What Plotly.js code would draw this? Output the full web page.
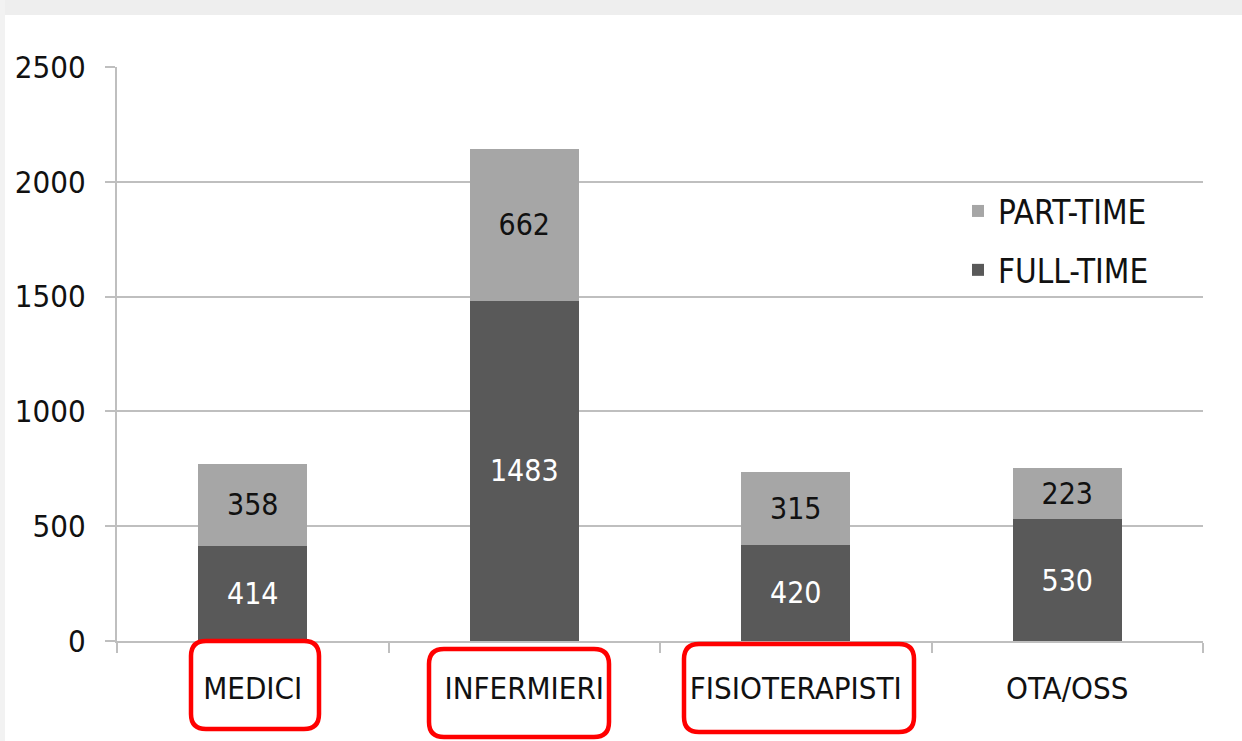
<!DOCTYPE html>
<html>
<head>
<meta charset="utf-8">
<script src="https://cdn.plot.ly/plotly-3.0.1.min.js"></script>
<style>html,body{margin:0;padding:0;background:#fff;}#chart{width:1242px;height:741px;}</style>
</head>
<body>
<div id="chart"></div>
<script>
const categories = ["MEDICI", "INFERMIERI", "FISIOTERAPISTI", "OTA/OSS"];
const fullTime = [414, 1483, 420, 530];
const partTime = [358, 662, 315, 223];
const seriesNames = ["FULL-TIME", "PART-TIME"];
const yTicks = [0, 500, 1000, 1500, 2000, 2500];

const W = 1242, H = 741;
const L = 117, R = 1203, T = 67, B = 641;
const px2x = p => (p - L) / (R - L);
const py2y = p => (B - p) / (B - T);

function roundRect(x0, y0, x1, y1, r) {
  const X = px2x, Y = py2y;
  return `M ${X(x0 + r)},${Y(y0)} L ${X(x1 - r)},${Y(y0)} Q ${X(x1)},${Y(y0)} ${X(x1)},${Y(y0 + r)} ` +
    `L ${X(x1)},${Y(y1 - r)} Q ${X(x1)},${Y(y1)} ${X(x1 - r)},${Y(y1)} ` +
    `L ${X(x0 + r)},${Y(y1)} Q ${X(x0)},${Y(y1)} ${X(x0)},${Y(y1 - r)} ` +
    `L ${X(x0)},${Y(y0 + r)} Q ${X(x0)},${Y(y0)} ${X(x0 + r)},${Y(y0)} Z`;
}

const FONT = '"DejaVu Sans Condensed", "Liberation Sans Narrow", Lato, sans-serif';

const traces = [
  {
    type: 'bar', name: seriesNames[0], x: categories, y: fullTime,
    text: fullTime.map(String), textposition: 'inside', insidetextanchor: 'middle',
    textfont: {color: '#ffffff', size: 30, family: FONT},
    marker: {color: '#595959'}, legendgroup: 'a', legendrank: 2, width: 0.4, hoverinfo: 'none'
  },
  {
    type: 'bar', name: seriesNames[1], x: categories, y: partTime,
    text: partTime.map(String), textposition: 'inside', insidetextanchor: 'middle',
    textfont: {color: '#111111', size: 30, family: FONT},
    marker: {color: '#a6a6a6'}, legendgroup: 'b', legendrank: 1, width: 0.4, hoverinfo: 'none'
  }
];

const shapes = [
  {type: 'rect', xref: 'paper', yref: 'paper', x0: px2x(0), x1: px2x(W), y0: py2y(15), y1: py2y(0),
   fillcolor: '#eeeeee', line: {width: 0}, layer: 'below'},
  {type: 'rect', xref: 'paper', yref: 'paper', x0: px2x(0), x1: px2x(5), y0: py2y(H), y1: py2y(0),
   fillcolor: '#f2f2f2', line: {width: 0}, layer: 'below'},
  {type: 'path', xref: 'paper', yref: 'paper', path: roundRect(191, 641, 319, 729, 15), line: {color: '#ff0000', width: 4.5}},
  {type: 'path', xref: 'paper', yref: 'paper', path: roundRect(429, 649, 609, 737, 15), line: {color: '#ff0000', width: 4.5}},
  {type: 'path', xref: 'paper', yref: 'paper', path: roundRect(684, 644, 914, 732, 15), line: {color: '#ff0000', width: 4.5}}
];

const layout = {
  width: W, height: H,
  margin: {l: L, r: W - R, t: T, b: H - B, pad: 0},
  paper_bgcolor: '#ffffff', plot_bgcolor: '#ffffff',
  barmode: 'stack', bargap: 0.6,
  font: {family: FONT, color: '#111111', size: 30},
  showlegend: true,
  legend: {
    x: px2x(958), y: py2y(183), xanchor: 'left', yanchor: 'top',
    traceorder: 'grouped', tracegroupgap: 13,
    font: {size: 33, family: FONT, color: '#111111'},
    bgcolor: 'rgba(0,0,0,0)'
  },
  xaxis: {
    type: 'category', tickson: 'boundaries', ticks: 'outside', ticklen: 10, tickwidth: 2,
    tickcolor: '#bfbfbf', showline: true, linecolor: '#bfbfbf', linewidth: 2,
    showgrid: false, tickfont: {size: 31, family: FONT, color: '#111111'},
    ticklabelstandoff: 19, fixedrange: true
  },
  yaxis: {
    range: [0, 2500], tickvals: yTicks, ticktext: yTicks.map(String),
    showgrid: true, gridcolor: '#bfbfbf', gridwidth: 2,
    ticks: 'outside', ticklen: 10, tickwidth: 2, tickcolor: '#bfbfbf',
    showline: true, linecolor: '#bfbfbf', linewidth: 2, zeroline: false,
    tickfont: {size: 31, family: FONT, color: '#111111'},
    ticklabelstandoff: 13, fixedrange: true
  },
  shapes: shapes
};

Plotly.newPlot('chart', traces, layout, {displayModeBar: false, staticPlot: true});
</script>
</body>
</html>
